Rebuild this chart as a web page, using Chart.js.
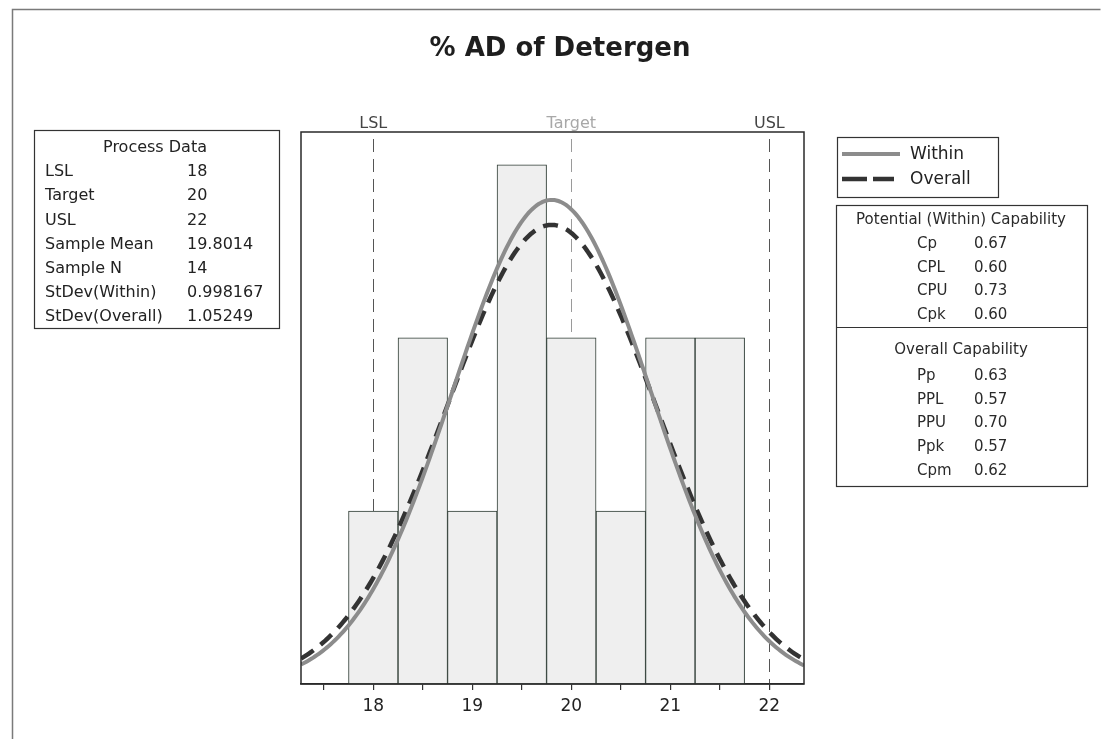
<!DOCTYPE html>
<html>
<head>
<meta charset="utf-8">
<title>% AD of Detergen</title>
<script src="https://cdn.jsdelivr.net/npm/chart.js@4.4.1/dist/chart.umd.min.js"></script>
<style>
  html, body { margin: 0; padding: 0; background: #ffffff; }
  #wrap { position: relative; width: 1103px; height: 739px; }
  canvas { display: block; }
</style>
</head>
<body>
<div id="wrap"><canvas id="cap" width="1103" height="739"></canvas></div>
<script>
// Histogram bins (centre of each 0.5-wide class) and their counts
const binCenters = [18.0, 18.5, 19.0, 19.5, 20.0, 20.5, 21.0, 21.5];
const binCounts  = [1, 2, 1, 3, 2, 1, 2, 2];
const binWidth = 0.5;

// Specification limits
const specNames  = ['LSL', 'Target', 'USL'];
const specValues = [18, 20, 22];

// Fitted process statistics
const sampleMean   = 19.8014;
const sampleN      = 14;
const stdevWithin  = 0.998167;
const stdevOverall = 1.05249;

// Axis ticks (labels only on whole numbers)
const xTicks = [17.5, 18, 18.5, 19, 19.5, 20, 20.5, 21, 21.5, 22];
const xMin = 17.27, xMax = 22.35, yMax = 3.19;

// Text tables
const processLabels = ['LSL', 'Target', 'USL', 'Sample Mean', 'Sample N', 'StDev(Within)', 'StDev(Overall)'];
const processValues = ['18', '20', '22', '19.8014', '14', '0.998167', '1.05249'];
const potentialLabels = ['Cp', 'CPL', 'CPU', 'Cpk'];
const potentialValues = ['0.67', '0.60', '0.73', '0.60'];
const overallLabels = ['Pp', 'PPL', 'PPU', 'Ppk', 'Cpm'];
const overallValues = ['0.63', '0.57', '0.70', '0.57', '0.62'];

// Normal curve scaled to histogram counts
function normalCurve(sd) {
  const pts = [];
  const scale = sampleN * binWidth / (sd * Math.sqrt(2 * Math.PI));
  for (let i = 0; i <= 254; i++) {
    const x = xMin + (xMax - xMin) * i / 254;
    const z = (x - sampleMean) / sd;
    pts.push({ x: x, y: scale * Math.exp(-0.5 * z * z) });
  }
  return pts;
}

const FONT = '"DejaVu Sans", Verdana, sans-serif';

const decorPlugin = {
  id: 'decor',
  beforeDatasetsDraw(chart) {
    const { ctx, chartArea, scales } = chart;
    // specification reference lines and their captions
    ctx.save();
    ctx.lineWidth = 1;
    ctx.setLineDash([13, 7]);
    specValues.forEach((v, i) => {
      const px = Math.round(scales.x.getPixelForValue(v)) + 0.5;
      ctx.strokeStyle = i === 1 ? '#9a9a9a' : '#555555';
      ctx.beginPath();
      ctx.moveTo(px, chartArea.top + 7);
      ctx.lineTo(px, chartArea.bottom);
      ctx.stroke();
    });
    ctx.setLineDash([]);
    ctx.font = '16px ' + FONT;
    ctx.textAlign = 'center';
    ctx.textBaseline = 'alphabetic';
    specValues.forEach((v, i) => {
      const px = scales.x.getPixelForValue(v);
      ctx.fillStyle = i === 1 ? '#a8a8a8' : '#444444';
      ctx.fillText(specNames[i], px, chartArea.top - 4);
    });
    ctx.restore();
  },
  afterDatasetsDraw(chart) {
    const { ctx, chartArea } = chart;
    ctx.save();
    ctx.strokeStyle = '#2a2a2a';
    ctx.lineWidth = 1.5;
    ctx.strokeRect(chartArea.left, chartArea.top, chartArea.right - chartArea.left, chartArea.bottom - chartArea.top);
    ctx.restore();
  },
  afterDraw(chart) {
    const ctx = chart.ctx;
    ctx.save();
    // outer frame
    ctx.strokeStyle = '#7a7a7a';
    ctx.lineWidth = 1.5;
    ctx.beginPath();
    ctx.moveTo(12.5, 745);
    ctx.lineTo(12.5, 9.5);
    ctx.lineTo(1100.5, 9.5);
    ctx.stroke();

    // title
    ctx.fillStyle = '#1e1e1e';
    ctx.font = 'bold 26px ' + FONT;
    ctx.textAlign = 'center';
    ctx.textBaseline = 'alphabetic';
    ctx.fillText('% AD of Detergen', 560, 56);

    // process data box
    ctx.strokeStyle = '#333333';
    ctx.lineWidth = 1.2;
    ctx.strokeRect(34.5, 130.5, 245, 198);
    ctx.fillStyle = '#222222';
    ctx.font = '16px ' + FONT;
    ctx.textBaseline = 'middle';
    ctx.textAlign = 'center';
    ctx.fillText('Process Data', 155, 148);
    ctx.textAlign = 'left';
    processLabels.forEach((lab, i) => {
      const y = 172 + i * 24.2;
      ctx.fillText(lab, 45, y);
      ctx.fillText(processValues[i], 187, y);
    });

    // legend box
    ctx.strokeRect(837.5, 137.5, 161, 60);
    ctx.strokeStyle = '#8c8c8c';
    ctx.lineWidth = 4;
    ctx.beginPath();
    ctx.moveTo(842, 154);
    ctx.lineTo(900, 154);
    ctx.stroke();
    ctx.strokeStyle = '#333333';
    ctx.lineWidth = 4.5;
    ctx.beginPath();
    ctx.moveTo(842, 179); ctx.lineTo(867, 179);
    ctx.moveTo(873, 179); ctx.lineTo(894, 179);
    ctx.stroke();
    ctx.fillStyle = '#222222';
    ctx.font = '17px ' + FONT;
    ctx.textAlign = 'left';
    ctx.fillText('Within', 910, 155);
    ctx.fillText('Overall', 910, 180);

    // capability box
    ctx.strokeStyle = '#333333';
    ctx.lineWidth = 1.2;
    ctx.strokeRect(836.5, 205.5, 251, 281);
    ctx.beginPath();
    ctx.moveTo(836.5, 327.5);
    ctx.lineTo(1087.5, 327.5);
    ctx.stroke();
    ctx.fillStyle = '#2a2a2a';
    ctx.font = '15px ' + FONT;
    ctx.textAlign = 'center';
    ctx.fillText('Potential (Within) Capability', 961, 220);
    ctx.fillText('Overall Capability', 961, 350);
    ctx.textAlign = 'left';
    potentialLabels.forEach((lab, i) => {
      const y = 244 + i * 23.8;
      ctx.fillText(lab, 917, y);
      ctx.fillText(potentialValues[i], 974, y);
    });
    overallLabels.forEach((lab, i) => {
      const y = 376 + i * 23.8;
      ctx.fillText(lab, 917, y);
      ctx.fillText(overallValues[i], 974, y);
    });
    ctx.restore();
  }
};

new Chart(document.getElementById('cap'), {
  type: 'bar',
  data: {
    datasets: [
      {
        type: 'line',
        label: 'Within',
        data: normalCurve(stdevWithin),
        borderColor: '#8c8c8c',
        borderWidth: 4,
        pointRadius: 0,
        tension: 0,
        order: 1
      },
      {
        type: 'line',
        label: 'Overall',
        data: normalCurve(stdevOverall),
        borderColor: '#333333',
        borderWidth: 4.5,
        borderDash: [15, 9],
        pointRadius: 0,
        tension: 0,
        order: 2
      },
      {
        type: 'bar',
        label: 'Count',
        data: binCenters.map((c, i) => ({ x: c, y: binCounts[i] })),
        backgroundColor: '#efefef',
        borderColor: '#2d3b33',
        borderWidth: 1,
        borderSkipped: false,
        barPercentage: 1,
        categoryPercentage: 1,
        order: 3
      }
    ]
  },
  options: {
    responsive: false,
    animation: false,
    devicePixelRatio: 1,
    layout: { padding: { left: 301, right: 299, top: 132, bottom: 0 } },
    plugins: {
      legend: { display: false },
      title: { display: false },
      tooltip: { enabled: false }
    },
    scales: {
      x: {
        type: 'linear',
        min: xMin,
        max: xMax,
        offset: false,
        afterBuildTicks(scale) { scale.ticks = xTicks.map(v => ({ value: v })); },
        afterFit(scale) { scale.height = 55; },
        grid: {
          display: true,
          offset: false,
          drawOnChartArea: false,
          drawTicks: true,
          tickLength: 6,
          color: '#333333',
          lineWidth: 1.2
        },
        border: { display: true, color: '#2a2a2a', width: 1.5 },
        ticks: {
          autoSkip: false,
          maxRotation: 0,
          padding: 6,
          color: '#222222',
          font: { family: FONT, size: 17 },
          callback: (v) => Number.isInteger(v) ? String(v) : ''
        }
      },
      y: {
        display: false,
        min: 0,
        max: yMax
      }
    }
  },
  plugins: [decorPlugin]
});
</script>
</body>
</html>
